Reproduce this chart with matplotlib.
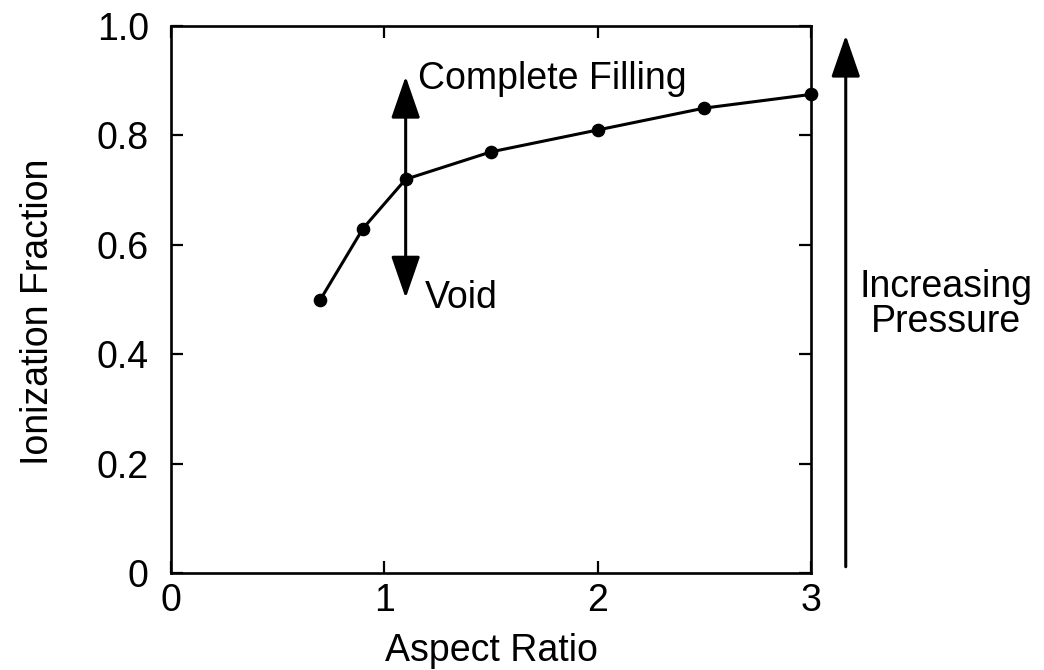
import matplotlib
matplotlib.use("Agg")
import matplotlib.pyplot as plt

plt.rcParams['font.family'] = ['Liberation Sans', 'DejaVu Sans']

# Ionization fraction vs. aspect ratio
aspect_ratio = [0.7, 0.9, 1.1, 1.5, 2.0, 2.5, 3.0]
ionization_fraction = [0.50, 0.63, 0.72, 0.77, 0.81, 0.85, 0.875]

x_ticks = [0, 1, 2, 3]
x_tick_labels = ["0", "1", "2", "3"]
y_ticks = [0, 0.2, 0.4, 0.6, 0.8, 1.0]
y_tick_labels = ["0", "0.2", "0.4", "0.6", "0.8", "1.0"]

# Threshold arrow between the two regimes
threshold_x = 1.1
threshold_low = 0.503
threshold_high = 0.908

# Pressure arrow beside the axes
pressure_x = 3.163
pressure_low = 0.012
pressure_high = 0.983

FS = 27

fig = plt.figure(figsize=(10.44, 6.70), dpi=100)
ax = fig.add_axes([0.1638, 0.1443, 0.6130, 0.8169])

ax.plot(aspect_ratio, ionization_fraction, color='black', lw=2.2,
        marker='o', markersize=8.8, clip_on=False, zorder=3)

ax.set_xlim(0, 3)
ax.set_ylim(0, 1.0)
ax.set_xticks(x_ticks)
ax.set_xticklabels(x_tick_labels)
ax.set_yticks(y_ticks)
ax.set_yticklabels(y_tick_labels)

ax.tick_params(direction='in', length=8.6, width=1.6, labelsize=FS,
               top=True, right=True, colors='black')
ax.tick_params(axis='x', pad=7)
ax.tick_params(axis='y', pad=16)
for sp in ax.spines.values():
    sp.set_linewidth(1.9)

ax.set_xlabel("Aspect Ratio", fontsize=FS, labelpad=10)
ax.set_ylabel("Ionization Fraction", fontsize=FS)
ax.yaxis.set_label_coords(-0.179, 0.478)

# double-headed threshold arrow
ax.annotate('', xy=(threshold_x, threshold_high), xytext=(threshold_x, threshold_low),
            arrowprops=dict(arrowstyle='<|-|>,head_length=2.6,head_width=0.9',
                            color='black', lw=2.2, shrinkA=0, shrinkB=0),
            annotation_clip=False)
ax.text(1.158, 0.885, "Complete Filling", fontsize=FS, ha='left', va='baseline')
ax.text(1.19, 0.485, "Void", fontsize=FS, ha='left', va='baseline')

# increasing-pressure arrow outside the axes
ax.annotate('', xy=(pressure_x, pressure_high), xytext=(pressure_x, pressure_low),
            arrowprops=dict(arrowstyle='-|>,head_length=2.6,head_width=0.9',
                            color='black', lw=2.2, shrinkA=0, shrinkB=0),
            annotation_clip=False)
fig.text(946 / 1044, 0.5567, "Increasing", fontsize=FS, ha='center', va='baseline')
fig.text(946 / 1044, 0.5045, "Pressure", fontsize=FS, ha='center', va='baseline')

fig.savefig("out.png", dpi=100)
